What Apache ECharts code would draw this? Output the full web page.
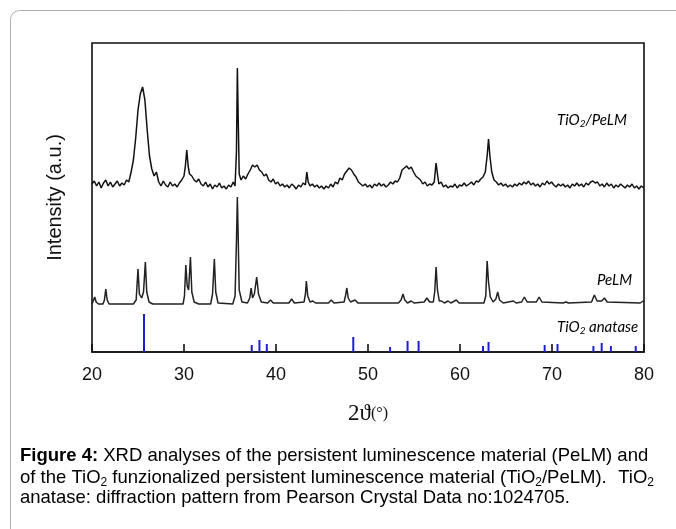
<!DOCTYPE html>
<html>
<head>
<meta charset="utf-8">
<script src="https://cdn.jsdelivr.net/npm/echarts@6/dist/echarts.min.js"></script>
<style>
  html, body { margin: 0; padding: 0; background: #fff; }
  #main { width: 676px; height: 529px; }
</style>
</head>
<body>
<div id="main"></div>
<script>
// 2theta / intensity (a.u.); curves are offset vertically
var tiPelm = [
  [20.0,168],[20.25,171],[20.5,166],[20.75,170],[21.0,164],[21.25,169],[21.5,172],[21.75,166],[22.0,170],[22.25,165],
  [22.5,168],[22.75,171],[23.0,166],[23.25,169],[23.5,167],[23.75,172],[24.0,170],[24.25,180],[24.5,192],[24.75,214],
  [25.0,242],[25.25,258],[25.5,265],[25.75,252],[26.0,222],[26.25,196],[26.5,183],[26.75,176],[27.0,180],[27.25,170],
  [27.5,166],[27.75,171],[28.0,167],[28.25,165],[28.5,170],[28.75,166],[29.0,168],[29.25,165],[29.5,169],[29.75,172],
  [30.0,176],[30.15,186],[30.3,202],[30.45,186],[30.6,178],[30.85,176],[31.1,172],[31.35,170],[31.6,173],[31.85,168],
  [32.1,166],[32.35,170],[32.6,165],[32.85,168],[33.1,163],[33.35,167],[33.6,165],[33.85,169],[34.1,164],[34.35,166],
  [34.6,163],[34.85,167],[35.1,165],[35.35,170],[35.55,166],[35.7,200],[35.8,284],[35.9,230],[36.0,178],[36.2,172],
  [36.45,176],[36.7,173],[36.95,178],[37.2,182],[37.45,187],[37.7,185],[37.95,187],[38.2,182],[38.45,180],[38.7,176],
  [38.95,178],[39.2,172],[39.45,170],[39.7,173],[39.95,168],[40.2,170],[40.45,166],[40.7,168],[40.95,165],[41.2,167],
  [41.45,164],[41.7,168],[41.95,166],[42.2,163],[42.45,167],[42.7,165],[42.95,169],[43.2,167],[43.35,180],[43.5,170],
  [43.7,166],[43.95,168],[44.2,165],[44.45,167],[44.7,164],[44.95,166],[45.2,163],[45.45,166],[45.7,164],[45.95,168],
  [46.2,165],[46.45,170],[46.7,168],[46.95,174],[47.2,172],[47.45,178],[47.7,181],[47.95,184],[48.2,182],[48.45,178],
  [48.7,175],[48.95,170],[49.2,168],[49.45,166],[49.7,168],[49.95,165],[50.2,167],[50.45,164],[50.7,168],[50.95,166],
  [51.2,169],[51.45,166],[51.7,168],[51.95,165],[52.2,167],[52.45,170],[52.7,168],[52.95,171],[53.2,170],[53.45,174],
  [53.7,182],[53.95,184],[54.2,186],[54.45,183],[54.7,185],[54.95,180],[55.2,176],[55.45,174],[55.7,172],[55.95,168],
  [56.2,170],[56.45,166],[56.7,168],[56.95,167],[57.2,170],[57.4,189],[57.55,178],[57.7,168],[57.95,170],[58.2,165],
  [58.45,167],[58.7,164],[58.95,166],[59.2,165],[59.45,168],[59.7,164],[59.95,167],[60.2,166],[60.45,169],[60.7,166],
  [61.0,168],[61.25,170],[61.5,167],[61.75,171],[62.0,170],[62.25,173],[62.5,175],[62.75,180],[62.95,196],[63.1,213],
  [63.25,196],[63.45,180],[63.7,172],[63.95,170],[64.2,167],[64.45,169],[64.7,166],[64.95,168],[65.2,165],[65.45,167],
  [65.7,165],[65.95,168],[66.2,166],[66.45,169],[66.7,167],[66.95,170],[67.2,168],[67.45,171],[67.7,167],[67.95,169],
  [68.2,166],[68.45,168],[68.7,165],[68.95,169],[69.2,167],[69.45,171],[69.7,168],[69.95,170],[70.2,167],[70.45,165],
  [70.7,168],[70.95,166],[71.2,168],[71.45,165],[71.7,167],[71.95,164],[72.2,168],[72.45,166],[72.7,169],[72.95,166],
  [73.2,168],[73.45,165],[73.7,169],[73.95,167],[74.2,170],[74.45,171],[74.7,169],[74.95,170],[75.2,166],[75.45,168],
  [75.7,165],[75.95,169],[76.2,166],[76.45,168],[76.7,164],[76.95,167],[77.2,165],[77.45,168],[77.7,166],[77.95,164],
  [78.2,167],[78.45,165],[78.7,168],[78.95,164],[79.2,166],[79.45,163],[79.7,166],[80.0,164]
];

var pelm = [
  [20.0,48],[20.15,50],[20.3,55],[20.45,50],[20.7,48],[21.2,48],[21.35,52],[21.5,63],[21.65,52],[21.85,48],
  [24.5,48],[24.8,52],[25.0,83],[25.15,58],[25.4,54],[25.6,60],[25.8,90],[25.95,60],[26.2,50],[26.6,48],
  [29.9,48],[30.05,56],[30.2,87],[30.35,66],[30.5,62],[30.7,95],[30.85,60],[31.1,50],[31.6,48],[32.9,48],
  [33.1,58],[33.3,93],[33.45,60],[33.7,49],[35.3,48],[35.55,56],[35.7,110],[35.8,155],[35.88,120],[36.0,62],
  [36.3,50],[36.9,49],[37.15,54],[37.3,64],[37.45,54],[37.65,58],[37.9,75],[38.1,58],[38.4,50],[39.1,49],
  [39.4,52],[39.7,49],[41.4,49],[41.7,53],[42.0,49],[43.05,50],[43.2,58],[43.3,71],[43.45,56],[43.7,50],
  [44.0,51],[44.3,49],[45.7,49],[46.0,52],[46.3,49],[47.4,50],[47.55,56],[47.7,64],[47.85,54],[48.1,50],
  [48.6,52],[48.9,49],[52.8,49],[53.0,50],[53.3,49],[53.6,52],[53.8,58],[54.0,52],[54.3,49],[54.7,51],
  [55.0,49],[56.1,50],[56.4,54],[56.7,50],[57.1,50],[57.25,60],[57.4,85],[57.55,62],[57.75,51],[58.0,51],
  [58.3,49],[58.7,51],[59.0,49],[59.6,52],[59.9,49],[62.6,49],[62.8,56],[62.95,91],[63.1,70],[63.3,55],
  [63.6,50],[63.9,53],[64.1,60],[64.3,52],[64.7,49],[65.8,51],[66.1,49],[66.7,50],[67.0,55],[67.3,50],
  [68.3,50],[68.6,55],[68.9,50],[71.2,49],[71.5,50],[71.8,49],[74.3,50],[74.6,57],[74.9,51],[75.4,51],
  [75.7,54],[76.0,50],[79.6,49],[79.9,51],[80.0,50]
];

// TiO2 anatase reference pattern (stick positions and heights)
var anataseAngles = [25.65, 37.36, 38.2, 39.0, 48.4, 52.4, 54.3, 55.5, 62.5, 63.1, 69.2, 70.6, 74.5, 75.4, 76.4, 79.1];
var anataseHeights = [38, 7, 12, 8, 15, 5, 11, 11, 6, 10, 7, 8, 6, 9, 6, 6];

var xTicks = [20, 30, 40, 50, 60, 70, 80];

var anatase = anataseAngles.map(function (a, i) { return [a, anataseHeights[i]]; });

var chart = echarts.init(document.getElementById('main'), null, { renderer: 'canvas' });

var subRich = {
  n: { fontSize: 15, fontStyle: 'italic', fontFamily: 'Lato', color: '#222', lineHeight: 18 },
  s: { fontSize: 10, fontStyle: 'italic', fontFamily: 'Lato', color: '#222', lineHeight: 18, verticalAlign: 'bottom', padding: [8, 0, 0, 0] }
};
var capRich = {
  r: { fontSize: 18.5, fontFamily: 'Liberation Sans', color: '#111' },
  b: { fontSize: 18.5, fontFamily: 'Liberation Sans', fontWeight: 'bold', color: '#111' },
  s: { fontSize: 12, fontFamily: 'Liberation Sans', color: '#111', padding: [10, 0, 0, 0] }
};

var option = {
  backgroundColor: '#fff',
  animation: false,
  grid: { left: 92, right: 32, top: 43, bottom: 177, show: true, borderColor: '#111', borderWidth: 1.6 },
  xAxis: {
    type: 'value', min: 20, max: 80, interval: 10,
    axisLine: { show: true, lineStyle: { color: '#111', width: 1.6 } },
    axisTick: { show: true, inside: true, length: 8, lineStyle: { color: '#111', width: 1.6 } },
    axisLabel: {
      fontSize: 18, fontFamily: 'Liberation Sans', color: '#111', margin: 14,
      formatter: function (v) { return xTicks.indexOf(v) >= 0 ? String(v) : ''; }
    },
    splitLine: { show: false },
    name: '{a|2\u03d1}{b|(\u00b0)}',
    nameLocation: 'middle', nameGap: 50,
    nameTextStyle: {
      rich: {
        a: { fontSize: 23, fontFamily: 'Liberation Serif', color: '#111' },
        b: { fontSize: 16, fontFamily: 'Liberation Serif', color: '#111' }
      }
    }
  },
  yAxis: {
    type: 'value', min: 0, max: 309,
    axisLine: { show: false }, axisTick: { show: false }, axisLabel: { show: false },
    splitLine: { show: false },
    name: 'Intensity (a.u.)', nameLocation: 'middle', nameGap: 27,
    nameTextStyle: { fontSize: 20, fontFamily: 'Liberation Sans', color: '#111' }
  },
  series: [
    {
      name: 'TiO2/PeLM', type: 'line', data: tiPelm, showSymbol: false,
      lineStyle: { color: '#111', width: 1.5 }
    },
    {
      name: 'PeLM', type: 'line', data: pelm, showSymbol: false,
      lineStyle: { color: '#222', width: 1.5 }
    },
    {
      name: 'TiO2 anatase', type: 'bar', data: anatase, barWidth: 2,
      itemStyle: { color: '#1f1fd0' }
    }
  ],
  graphic: [
    { type: 'rect', shape: { x: 10.5, y: 10.5, width: 720, height: 560, r: 9 }, style: { fill: null, stroke: '#b0b0b0', lineWidth: 1 } },
    { type: 'text', x: 557, y: 111, style: { text: '{n|TiO}{s|2}{n|/PeLM}', rich: subRich } },
    { type: 'text', x: 597, y: 271, style: { text: '{n|PeLM}', rich: subRich } },
    { type: 'text', x: 557, y: 318, style: { text: '{n|TiO}{s|2}{n| anatase}', rich: subRich } },
    { type: 'text', x: 20, y: 446, style: { text: '{b|Figure 4:}{r| XRD analyses of the persistent luminescence material (PeLM) and}', rich: capRich } },
    { type: 'text', x: 20, y: 467, style: { text: '{r|of the TiO}{s|2}{r| funzionalized persistent luminescence material (TiO}{s|2}{r|/PeLM).}', rich: capRich } },
    { type: 'text', x: 654, y: 467, style: { text: '{r|TiO}{s|2}', rich: capRich, align: 'right' } },
    { type: 'text', x: 20, y: 488, style: { text: '{r|anatase: diffraction pattern from Pearson Crystal Data no:1024705.}', rich: capRich } }
  ]
};

chart.setOption(option);
</script>
</body>
</html>
